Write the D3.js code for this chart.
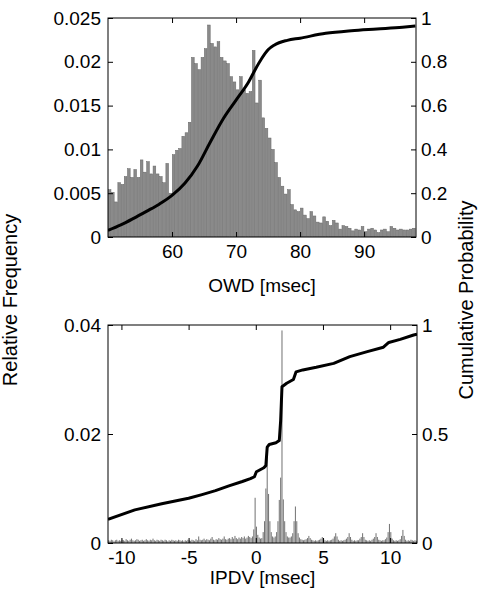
<!DOCTYPE html>
<html><head><meta charset="utf-8">
<script src="https://cdn.jsdelivr.net/npm/d3@7"></script>
<style>body{margin:0;background:#fff}text{font-family:"Liberation Sans",Arial,sans-serif}</style>
</head><body><svg id="c" width="485" height="603"></svg>
<script>
// ---- Top panel: OWD histogram (bins of 0.5 ms starting at 50 ms) ----
const owdBinStart = 50, owdBinWidth = 0.5;
const owdFreq = [
0.0054,0.0051,0.0040,0.0062,0.0060,0.0069,0.0078,0.0068,0.0077,0.0068,
0.0088,0.0074,0.0086,0.0072,0.0081,0.0072,0.0069,0.0062,0.0084,0.0050,
0.0094,0.0099,0.0101,0.0115,0.0119,0.0131,0.0205,0.0198,0.0191,0.0205,
0.0215,0.0242,0.0221,0.0217,0.0223,0.0205,0.0201,0.0198,0.0183,0.0177,
0.0168,0.0183,0.0168,0.0164,0.0166,0.0213,0.0153,0.0179,0.0136,0.0124,
0.0113,0.0100,0.0085,0.0068,0.0058,0.0049,0.0054,0.0037,0.0031,0.0029,
0.0033,0.0025,0.0021,0.0029,0.0024,0.0017,0.0016,0.0023,0.0018,0.0013,
0.0019,0.0016,0.0009,0.0013,0.0012,0.0010,0.0007,0.0009,0.0008,0.0012,
0.0006,0.0009,0.0010,0.0008,0.0005,0.0008,0.0009,0.0006,0.0012,0.0010,
0.0008,0.0009,0.0008,0.0008,0.0009,0.0010];
const owdCdfX = [50,52,54,56,58,60,62,64,66,68,70,72,73,74,75,76,78,80,84,88,92,96,98];
const owdCdfY = [0.03,0.055,0.085,0.117,0.15,0.19,0.245,0.325,0.435,0.54,0.625,0.71,0.765,0.815,0.855,0.877,0.898,0.908,0.93,0.942,0.95,0.958,0.963];
const owdXTicks = [60,70,80,90];
const owdYTicks = [0,0.005,0.01,0.015,0.02,0.025];
const owdYTickLabels = ["0","0.005","0.01","0.015","0.02","0.025"];
const probTicksTop = [0,0.2,0.4,0.6,0.8,1];
const probTickLabelsTop = ["0","0.2","0.4","0.6","0.8","1"];

// ---- Bottom panel: IPDV histogram (bins of 0.1 ms starting at -11 ms) ----
const ipdvBinStart = -11, ipdvBinWidth = 0.1;
const ipdvFreq = [
0.0005,0.0004,0.0006,0.0005,0.0003,0.0005,0.0006,0.0004,0.0005,0.0004,
0.0006,0.0005,0.0004,0.0007,0.0005,0.0004,0.0006,0.0008,0.0005,0.0004,
0.0005,0.0007,0.0006,0.0004,0.0005,0.0006,0.0004,0.0005,0.0007,0.0005,
0.0004,0.0006,0.0005,0.0008,0.0005,0.0004,0.0006,0.0005,0.0004,0.0006,
0.0005,0.0004,0.0006,0.0005,0.0003,0.0005,0.0004,0.0006,0.0005,0.0004,
0.0005,0.0004,0.0006,0.0005,0.0004,0.0005,0.0003,0.0005,0.0004,0.0006,
0.0005,0.0004,0.0006,0.0005,0.0004,0.0007,0.0005,0.0012,0.0006,0.0005,
0.0006,0.0008,0.0005,0.0007,0.0006,0.0005,0.0008,0.0011,0.0006,0.0005,
0.0007,0.0006,0.0009,0.0007,0.0006,0.0008,0.0012,0.0007,0.0006,0.0008,
0.0009,0.0007,0.0011,0.0008,0.0013,0.0009,0.0007,0.0010,0.0008,0.0011,
0.0009,0.0012,0.0008,0.0010,0.0013,0.0011,0.0009,0.0012,0.0025,0.0083,
0.0030,0.0015,0.0010,0.0008,0.0009,0.0020,0.0040,0.0100,0.0170,0.0090,
0.0040,0.0020,0.0012,0.0010,0.0012,0.0020,0.0040,0.0079,0.0120,0.0390,
0.0080,0.0040,0.0020,0.0012,0.0010,0.0010,0.0012,0.0018,0.0040,0.0067,
0.0040,0.0018,0.0010,0.0007,0.0006,0.0005,0.0006,0.0007,0.0009,0.0013,
0.0009,0.0006,0.0005,0.0004,0.0005,0.0004,0.0005,0.0006,0.0008,0.0011,
0.0008,0.0005,0.0004,0.0005,0.0004,0.0005,0.0006,0.0008,0.0012,0.0018,
0.0012,0.0006,0.0004,0.0005,0.0004,0.0005,0.0006,0.0008,0.0011,0.0018,
0.0011,0.0006,0.0004,0.0005,0.0004,0.0005,0.0005,0.0008,0.0011,0.0018,
0.0011,0.0006,0.0005,0.0004,0.0005,0.0004,0.0006,0.0008,0.0011,0.0018,
0.0011,0.0006,0.0005,0.0004,0.0005,0.0005,0.0007,0.0010,0.0020,0.0035,
0.0020,0.0008,0.0005,0.0004,0.0005,0.0004,0.0005,0.0007,0.0013,0.0024,
0.0013,0.0006,0.0004,0.0005,0.0004,0.0006,0.0005,0.0004,0.0005,0.0004];
const ipdvCdfX = [-11,-9,-7,-5,-4,-3,-2,-1,-0.4,-0.1,0,0.05,0.6,0.75,0.85,1.0,1.5,1.75,1.85,1.95,2.3,2.8,3.0,3.5,4.5,5.8,7.0,8.3,9.5,9.9,10.75,11.75,12];
const ipdvCdfY = [0.109,0.152,0.18,0.205,0.222,0.24,0.262,0.282,0.295,0.304,0.32,0.327,0.345,0.355,0.44,0.452,0.46,0.47,0.56,0.717,0.733,0.75,0.785,0.794,0.806,0.824,0.855,0.878,0.898,0.92,0.934,0.954,0.958];
const ipdvXTicks = [-10,-5,0,5,10];
const ipdvYTicks = [0,0.02,0.04];
const ipdvYTickLabels = ["0","0.02","0.04"];
const probTicksBot = [0,0.5,1];
const probTickLabelsBot = ["0","0.5","1"];

const svg = d3.select("#c");
const FS = 19;

function panel(o){
  const g = svg.append("g");
  const x = d3.scaleLinear().domain(o.xDomain).range([o.x0,o.x1]);
  const y = d3.scaleLinear().domain(o.yDomain).range([o.y1,o.y0]);
  const yp = d3.scaleLinear().domain([0,1]).range([o.y1,o.y0]);
  const clipId = "clip"+o.id;
  svg.append("clipPath").attr("id",clipId).append("rect")
    .attr("x",o.x0).attr("y",o.y0).attr("width",o.x1-o.x0).attr("height",o.y1-o.y0);
  const plot = g.append("g").attr("clip-path",`url(#${clipId})`);
  plot.selectAll("rect.bar").data(o.freq).join("rect").attr("class","bar")
    .attr("x",(d,i)=>x(o.binStart+i*o.binWidth)+o.inset)
    .attr("width",(d,i)=>x(o.binStart+(i+1)*o.binWidth)-x(o.binStart+i*o.binWidth)-2*o.inset)
    .attr("y",d=>y(d)).attr("height",d=>y(0)-y(d))
    .attr("fill",o.barFill).attr("stroke",o.barStroke).attr("stroke-width",o.barSW);
  const line = d3.line().x(d=>x(d[0])).y(d=>yp(d[1])).curve(o.curve);
  plot.append("path").datum(o.cdfX.map((v,i)=>[v,o.cdfY[i]]))
    .attr("d",line).attr("fill","none").attr("stroke","#000").attr("stroke-width",3)
    .attr("stroke-linejoin","round");
  g.append("rect").attr("x",o.x0).attr("y",o.y0).attr("width",o.x1-o.x0).attr("height",o.y1-o.y0)
    .attr("fill","none").attr("stroke","#000").attr("stroke-width",1);
  const T = 5;
  g.append("g").attr("transform",`translate(0,${o.y1})`)
    .call(d3.axisBottom(x).tickValues(o.xTicks).tickFormat(d=>String(d)).tickSize(-T).tickPadding(8));
  g.append("g").attr("transform",`translate(0,${o.y0})`)
    .call(d3.axisTop(x).tickValues(o.xTicks).tickFormat("").tickSize(-T));
  g.append("g").attr("transform",`translate(${o.x0},0)`)
    .call(d3.axisLeft(y).tickValues(o.yTicks).tickFormat((d,i)=>o.yLabels[i]).tickSize(-T).tickPadding(7));
  g.append("g").attr("transform",`translate(${o.x1},0)`)
    .call(d3.axisRight(yp).tickValues(o.pTicks).tickFormat((d,i)=>o.pLabels[i]).tickSize(-T).tickPadding(5));
  g.selectAll(".domain").remove();
  g.selectAll(".tick line").attr("stroke","#000");
  g.selectAll(".tick text").attr("font-size",FS).attr("fill","#000")
    .style("font-family","'Liberation Sans',Arial,sans-serif");
  g.append("text").attr("x",(o.x0+o.x1)/2).attr("y",o.xLabelY).attr("text-anchor","middle")
    .attr("font-size",FS).text(o.xLabel);
}

panel({id:"t",x0:108,x1:416,y0:18,y1:237,xDomain:[50,98.1],yDomain:[0,0.025],
  freq:owdFreq,binStart:owdBinStart,binWidth:owdBinWidth,barFill:"#8a8a8a",barStroke:"#666",barSW:0.5,inset:0.25,
  curve:d3.curveMonotoneX,
  cdfX:owdCdfX,cdfY:owdCdfY,xTicks:owdXTicks,yTicks:owdYTicks,yLabels:owdYTickLabels,
  pTicks:probTicksTop,pLabels:probTickLabelsTop,xLabel:"OWD [msec]",xLabelY:292});
panel({id:"b",x0:108,x1:417,y0:325,y1:543,xDomain:[-11,12],yDomain:[0,0.04],
  freq:ipdvFreq,binStart:ipdvBinStart,binWidth:ipdvBinWidth,barFill:"#777",barStroke:"none",barSW:0,inset:0.15,
  curve:d3.curveLinear,
  cdfX:ipdvCdfX,cdfY:ipdvCdfY,xTicks:ipdvXTicks,yTicks:ipdvYTicks,yLabels:ipdvYTickLabels,
  pTicks:probTicksBot,pLabels:probTickLabelsBot,xLabel:"IPDV [msec]",xLabelY:584});

svg.append("text").attr("transform","translate(17,300) rotate(-90)").attr("text-anchor","middle")
  .attr("font-size",20).text("Relative Frequency");
svg.append("text").attr("transform","translate(473,300) rotate(-90)").attr("text-anchor","middle")
  .attr("font-size",20).text("Cumulative Probability");
</script></body></html>
